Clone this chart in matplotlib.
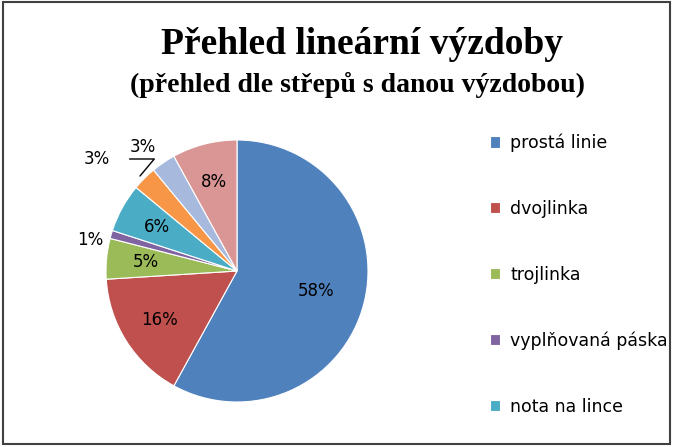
import matplotlib
matplotlib.use("Agg")
import matplotlib.pyplot as plt
from matplotlib.patches import Rectangle
import numpy as np

categories = ["prostá linie", "dvojlinka", "trojlinka", "vyplňovaná páska", "nota na lince",
              "kategorie 6", "kategorie 7", "kategorie 8"]
values = [58, 16, 5, 1, 6, 3, 3, 8]
colors = ["#4F81BD", "#C0504D", "#9BBB59", "#8064A2", "#4BACC6", "#F79646", "#A7B9DD", "#D99694"]
legend_shown = 5

W, H = 674, 447
fig = plt.figure(figsize=(6.74, 4.47), dpi=100)
fig.patches.append(Rectangle((0.004, 0.006), 0.99, 0.99, transform=fig.transFigure,
                             fill=False, edgecolor="#404040", lw=1.5))
fig.text(362 / W, 1 - 45 / H, "Přehled lineární výzdoby", ha="center", va="center",
         fontfamily="Liberation Serif", fontweight="bold", fontsize=27)
fig.text(358 / W, 1 - 85 / H, "(přehled dle střepů s danou výzdobou)", ha="center", va="center",
         fontfamily="Liberation Serif", fontweight="bold", fontsize=20)

cx, cy, r = 237, 271, 131
ax = fig.add_axes([(cx - r) / W, (H - cy - r) / H, 2 * r / W, 2 * r / H])
wedges, texts = ax.pie(values, colors=colors, startangle=90, counterclock=False,
                       wedgeprops=dict(edgecolor="white", linewidth=0.8))
ax.set_xlim(-1, 1)
ax.set_ylim(-1, 1)
ax.set_aspect("auto")

def px(x, y):
    return ((x - cx) / r, (cy - y) / r)

tot = sum(values)
cum = 0
for i, v in enumerate(values):
    mid = 90 - 360 * (cum + v / 2) / tot
    cum += v
    a = np.deg2rad(mid)
    lab = f"{v}%"
    if i == 3:
        ax.text(*px(90, 240), lab, ha="center", va="center", fontsize=12)
    elif i == 5:
        ax.annotate(lab, xy=px(140, 176), xytext=px(97, 159),
                    ha="center", va="center", fontsize=12,
                    arrowprops=dict(arrowstyle="-", color="black", lw=1, shrinkA=12, shrinkB=0,
                                    connectionstyle="angle,angleA=0,angleB=50"))
    elif i == 6:
        ax.text(*px(143, 147), lab, ha="center", va="center", fontsize=12)
    else:
        rr = 0.62 if i == 0 else 0.7
        ax.text(rr * np.cos(a), rr * np.sin(a), lab, ha="center", va="center", fontsize=12)

fig.legend(wedges[:legend_shown], categories[:legend_shown], loc="upper left",
           bbox_to_anchor=(474 / W, 1 - 118 / H), frameon=False, fontsize=12.5,
           labelspacing=2.75, handlelength=0.6, handleheight=0.6, handletextpad=0.6)
fig.savefig("out.png", dpi=100)
